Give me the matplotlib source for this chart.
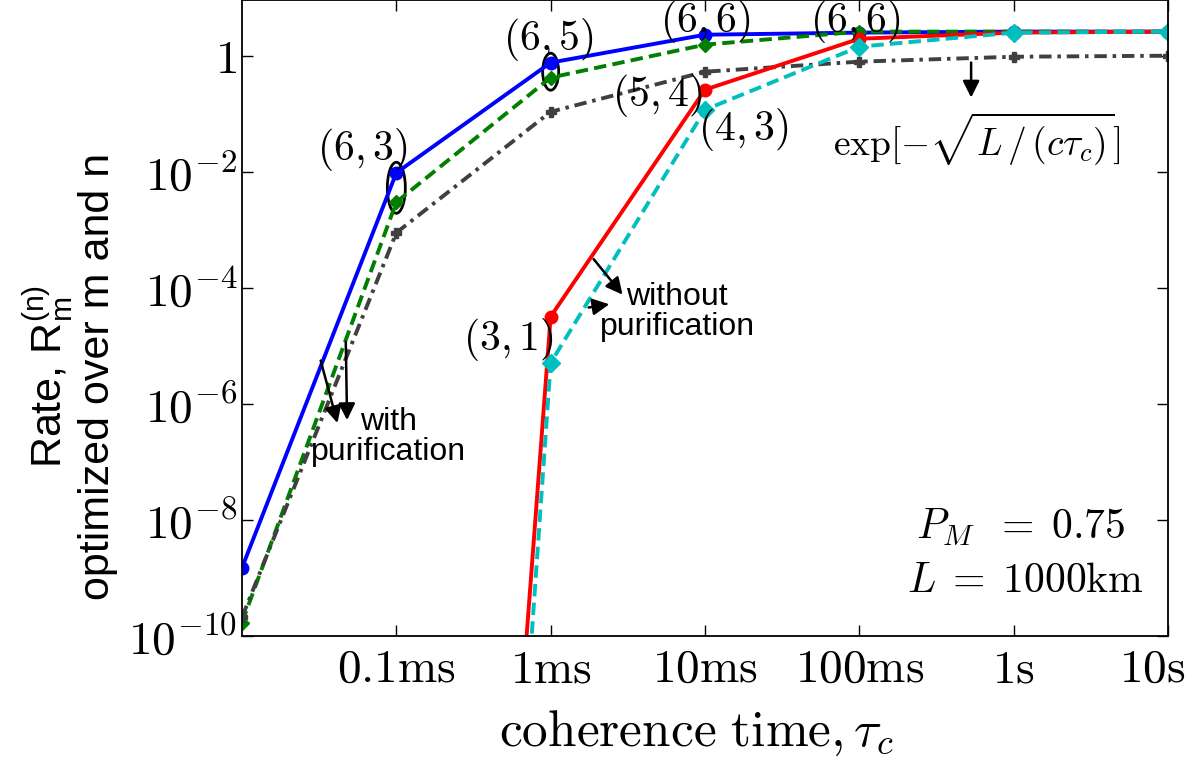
import numpy as np
import matplotlib.pyplot as plt
from matplotlib.patches import Ellipse
from matplotlib import transforms
from matplotlib.ticker import NullLocator, LogLocator

plt.rcParams['mathtext.fontset'] = 'cm'
plt.rcParams['mathtext.rm'] = 'Liberation Sans'
plt.rcParams['mathtext.it'] = 'Liberation Sans:italic'

# coherence time (s)
tau = [1e-5, 1e-4, 1e-3, 1e-2, 1e-1, 1, 10]
rate_blue = [1.5e-9, 9.6e-3, 0.76, 2.3, 2.5, 2.6, 2.6]
rate_green = [1.7e-10, 3.0e-3, 0.42, 1.55, 2.6, 2.6, 2.6]
rate_gray = [2.1e-10, 8.9e-4, 0.108, 0.53, 0.79, 0.96, 1.0]

# without purification
tau_np = [1e-4, 1e-3, 1e-2, 1e-1, 1, 10]
rate_red = [1.6e-40, 3.2e-5, 0.26, 1.96, 2.5, 2.6]
rate_cyan = [3e-44, 5.1e-6, 0.117, 1.43, 2.5, 2.6]

xticks = [1e-4, 1e-3, 1e-2, 1e-1, 1, 10]
xticklabels = [r'$0.1\mathrm{ms}$', r'$1\mathrm{ms}$', r'$10\mathrm{ms}$',
               r'$100\mathrm{ms}$', r'$1\mathrm{s}$', r'$10\mathrm{s}$']
yticks = [1e-10, 1e-8, 1e-6, 1e-4, 1e-2, 1]
yticklabels = [r'$10^{-10}$', r'$10^{-8}$', r'$10^{-6}$', r'$10^{-4}$',
               r'$10^{-2}$', r'$1$']

fig = plt.figure(figsize=(11.97, 7.63), dpi=100)
ax = fig.add_axes([242/1197, 127/763, 926/1197, 636/763])

lw = 2.8
ax.plot(tau, rate_blue, '-', color='#0000ff', lw=lw, marker='o', ms=9)
ax.plot(tau, rate_green, '--', color='#007f00', lw=lw, marker='D', ms=7.5,
        dashes=(3.2, 1.6))
ax.plot(tau, rate_gray, '-.', color='#404040', lw=lw, marker='P', ms=6.5,
        dashes=(3.2, 1.5, 0.9, 1.5))
ax.plot(tau_np, rate_red, '-', color='#ff0000', lw=lw, marker='o', ms=9)
ax.plot(tau_np, rate_cyan, '--', color='#00bfbf', lw=lw, marker='D', ms=9.5,
        dashes=(3.2, 1.6))

ax.set_xscale('log')
ax.set_yscale('log')
ax.set_xlim(1e-5, 10)
ax.set_ylim(1e-10, 10**0.96)
ax.set_xticks(xticks, labels=xticklabels)
ax.set_yticks(yticks, labels=yticklabels)
ax.xaxis.set_minor_locator(LogLocator(base=10, subs=np.arange(2, 10)))
ax.yaxis.set_minor_locator(NullLocator())
ax.tick_params(which='both', direction='in', top=True, right=True,
               labelsize=34)
ax.tick_params(axis='x', pad=8)
ax.tick_params(which='major', length=8, width=1)
ax.tick_params(which='minor', length=4, width=1)
for s in ax.spines.values():
    s.set_linewidth(1.3)
# last label sits a bit left of its tick, as in the original
last = ax.get_xticklabels()[-1]
last.set_transform(last.get_transform()
                   + transforms.ScaledTranslation(-0.16, 0, fig.dpi_scale_trans))


# ellipses around the optimal points
def ellipse_at(x, y, w_px, h_px):
    tr = fig.dpi_scale_trans + transforms.ScaledTranslation(x, y, ax.transData)
    ax.add_patch(Ellipse((0, 0), w_px / 100, h_px / 100, transform=tr,
                         fill=False, ec='k', lw=2))


ellipse_at(1e-4, 5.3e-3, 18, 51)
ellipse_at(1e-3, 0.53, 16, 37)

# (m, n) labels
fs = 30
ax.text(6.0e-5, 0.024, r'$(6,3)$', fontsize=fs, ha='center', va='center')
ax.text(9.6e-4, 1.89, r'$(6,5)$', fontsize=fs, ha='center', va='center')
ax.text(0.0101, 3.9, r'$(6,6)$', fontsize=fs, ha='center', va='center')
ax.text(0.095, 3.9, r'$(6,6)$', fontsize=fs, ha='center', va='center')
ax.text(4.95e-3, 0.21, r'$(5,4)$', fontsize=fs, ha='center', va='center')
ax.text(0.0177, 0.053, r'$(4,3)$', fontsize=fs, ha='center', va='center')
ax.text(5.3e-4, 1.27e-5, r'$(3,1)$', fontsize=fs, ha='center', va='center')

ax.text(8.9e-5, 2.7e-7, 'with\npurification', fontsize=23, ha='center',
        va='center', family='Liberation Sans', linespacing=1.0)
ax.text(6.6e-3, 3.9e-5, 'without\npurification', fontsize=23, ha='center',
        va='center', family='Liberation Sans', linespacing=1.0)
ax.text(0.575, 0.036, r'$\exp[-\sqrt{L\,/\,(c\tau_c)}]$', fontsize=27,
        ha='center', va='center')
ax.text(1.11, 7.6e-9, r'$P_M\;\;=\;0.75$', fontsize=30, ha='center',
        va='center')
ax.text(1.19, 9.3e-10, r'$L\;=\;1000\mathrm{km}$', fontsize=30,
        ha='center', va='center')

arrow = dict(arrowstyle='-|>', color='k', lw=1.8, mutation_scale=25)
ax.annotate('', xy=(4.2e-5, 4.2e-7), xytext=(3.2e-5, 6.2e-6), arrowprops=arrow)
ax.annotate('', xy=(4.8e-5, 4.7e-7), xytext=(4.7e-5, 1.3e-5), arrowprops=arrow)
ax.annotate('', xy=(3.0e-3, 7e-5), xytext=(1.85e-3, 3.4e-4), arrowprops=arrow)
ax.annotate('', xy=(2.5e-3, 5.3e-5), xytext=(1.69e-3, 4.5e-5), arrowprops=arrow)
ax.annotate('', xy=(0.53, 0.17), xytext=(0.53, 0.85), arrowprops=arrow)

fig.text(696/1197, 1 - 733/763, r'$\mathrm{coherence\ time,}\tau_c$',
         fontsize=37, ha='center', va='center')
fig.text(70/1197, 1 - 376/763,
         'Rate, R$_{\\mathrm{m}}^{\\mathrm{(n)}}$\noptimized over m and n',
         fontsize=31, family='Liberation Sans', math_fontfamily='custom',
         rotation=90, ha='center', va='center', multialignment='center',
         linespacing=1.05)

fig.savefig('out.png', dpi=100)
